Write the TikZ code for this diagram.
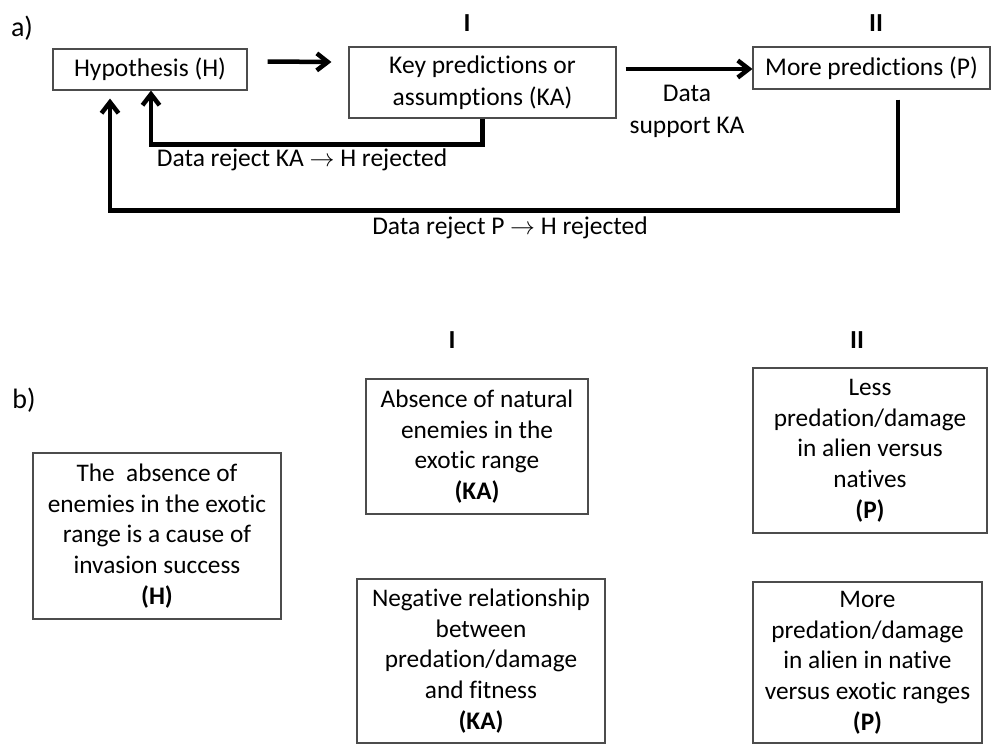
\documentclass[tikz,border=0pt]{standalone}
\usepackage{fontspec}
\setmainfont{Carlito}[Ligatures={NoCommon}]
\usetikzlibrary{arrows.meta}
\newcommand{\rarr}{$\rightarrow$}
\tikzset{
  txt/.style={font=\fontsize{25.3}{30.7}\selectfont, align=center, inner sep=0pt},
  txta/.style={font=\fontsize{25.5}{32}\selectfont, align=center, inner sep=0pt},
  box/.style={draw=black!70, line width=1.1pt, minimum width=#1},
  roman/.style={font=\fontsize{26}{30}\selectfont\bfseries, inner sep=0pt},
  part/.style={font=\fontsize{28}{32}\selectfont, inner sep=0pt},
  flow/.style={line width=4.5pt, -{Straight Barb[length=11pt,width=17pt]}},
}
\begin{document}
\begin{tikzpicture}[x=1pt,y=-1pt]
  \useasboundingbox (0,0) rectangle (991,744);

  % ---------- part a: the testing scheme ----------
  \node[part] (la) at (22,28) {a)};
  \node[roman] (r1a) at (467,23) {I};
  \node[roman] (r2a) at (876,23) {II};

  \node[txta, box=194pt, minimum height=41pt] (hyp) at (150,69.5) {Hypothesis (H)};
  \node[txta, box=267pt, minimum height=71pt] (ka) at (482.5,82.5) {Key predictions or\\assumptions (KA)};
  \node[txta, box=237pt, minimum height=42pt] (p) at (871.5,68) {More predictions (P)};

  \draw[flow] ([xshift=20pt,yshift=8pt]hyp.east) -- ([xshift=-17pt,yshift=20.5pt]ka.west);
  \draw[flow] ([xshift=9pt,yshift=13.5pt]ka.east) -- ([yshift=-1pt]p.west);
  \node[txta] (sup) at (687,111) {Data\\support KA};

  \draw[flow] (ka.south) -- ++(0,26) -| ([xshift=1pt]hyp.south);
  \node[txta] (rej1) at (302,160) {Data reject KA \rarr\ H rejected};

  \draw[flow] ([xshift=26.5pt,yshift=-10pt]p.south) -- ++(0,111) -| ([xshift=-40pt,yshift=-8pt]hyp.south);
  \node[txta] (rej2) at (510,228) {Data reject P \rarr\ H rejected};

  % ---------- part b: enemy release example ----------
  \node[part] (lb) at (24,400) {b)};
  \node[roman] (r1b) at (452,340) {I};
  \node[roman] (r2b) at (857,340) {II};

  \node[txt, box=248pt, minimum height=166pt] (hb) at (157,536)
    {The\ \ absence of\\enemies in the exotic\\range is a cause of\\invasion success\\\textbf{(H)}};
  \node[txt, box=222pt, minimum height=135pt] (ka1) at (477,446.5)
    {Absence of natural\\enemies in the\\exotic range\\\textbf{(KA)}};
  \node[txt, box=248pt, minimum height=164pt] (ka2) at (481,661)
    {Negative relationship\\between\\predation/damage\\and fitness\\\textbf{(KA)}};
  \node[txt, box=234pt, minimum height=165pt] (p1) at (870,450.5)
    {Less\\predation/damage\\in alien versus\\natives\\\textbf{(P)}};
  \node[txt, box=229pt, minimum height=161pt] (p2) at (867.5,662.5)
    {More\\predation/damage\\in alien in native\\versus exotic ranges\\\textbf{(P)}};
\end{tikzpicture}
\end{document}
